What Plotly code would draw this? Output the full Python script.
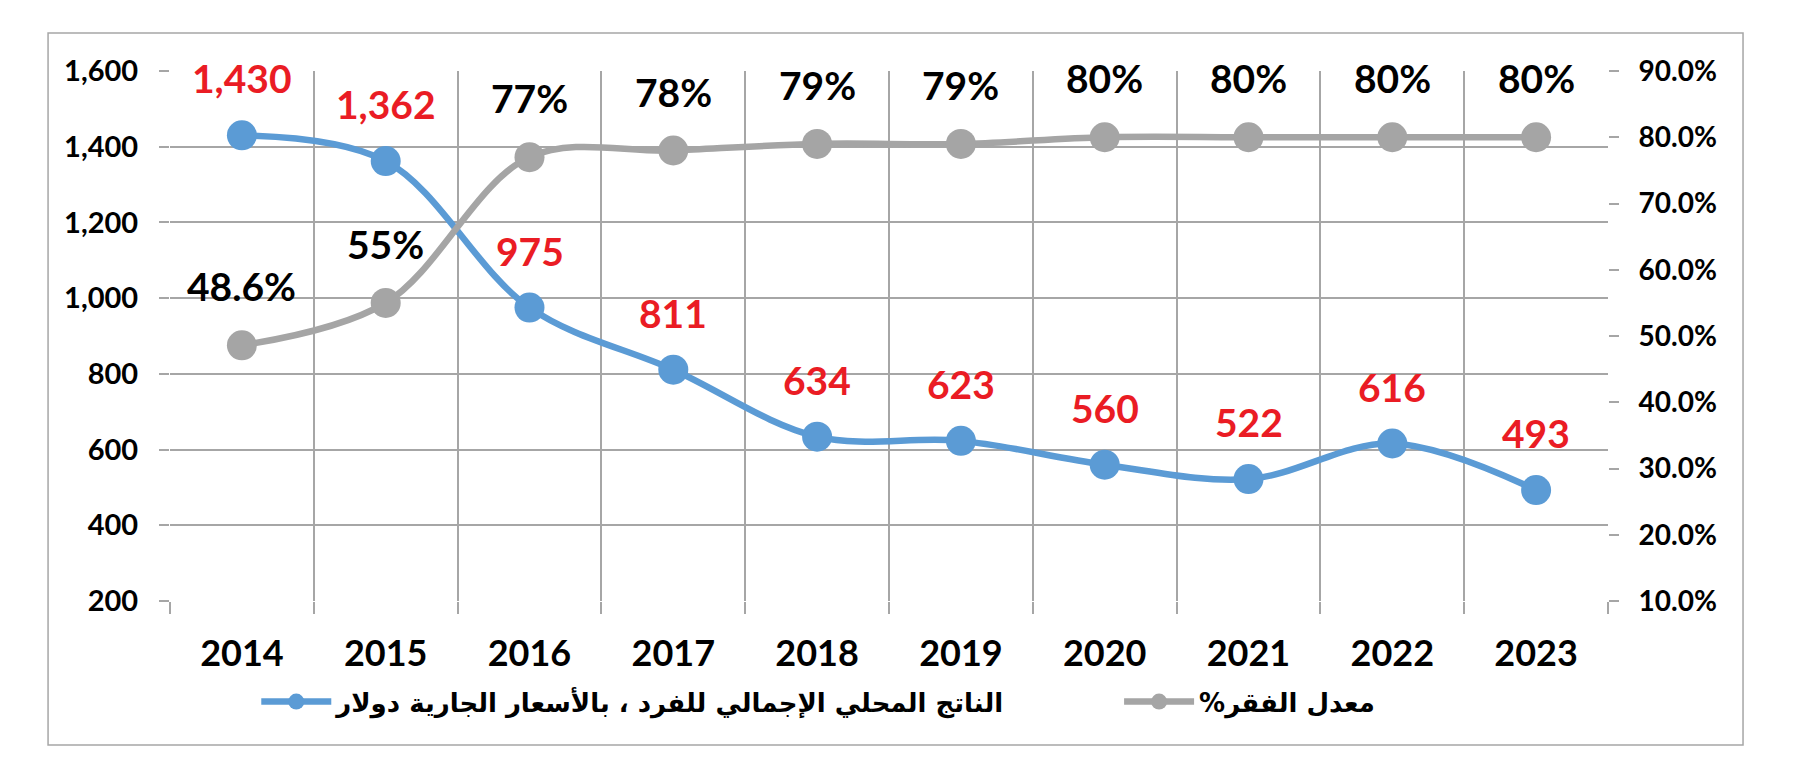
import plotly.graph_objects as go

years = ["2014", "2015", "2016", "2017", "2018", "2019", "2020", "2021", "2022", "2023"]
gdp_per_capita = [1430, 1362, 975, 811, 634, 623, 560, 522, 616, 493]
poverty_rate = [48.6, 55, 77, 78, 79, 79, 80, 80, 80, 80]
gdp_name = "الناتج المحلي الإجمالي للفرد ، بالأسعار الجارية دولار"
poverty_name = "معدل الفقر%"
left_ticks = [200, 400, 600, 800, 1000, 1200, 1400, 1600]
right_ticks = [10, 20, 30, 40, 50, 60, 70, 80, 90]
right_tick_text = [f"{v:.1f}%" for v in right_ticks]

BLUE = "#5b9bd5"
GRAY = "#a5a5a5"
GRID = "#a6a6a6"
RED = "#ea1c24"
NUM_FONT = "Lato"
AR_FONT = "DejaVu Sans"
RLM = "\u200F"  # right-to-left mark so the Arabic legend reads as an RTL paragraph

fig = go.Figure()
fig.add_trace(go.Scatter(
    x=years, y=gdp_per_capita, name=RLM + gdp_name + RLM, mode="lines+markers",
    line=dict(color=BLUE, width=6.5, shape="spline", smoothing=1),
    marker=dict(color=BLUE, size=30), yaxis="y", legend="legend",
))
fig.add_trace(go.Scatter(
    x=years, y=poverty_rate, name=RLM + poverty_name + RLM, mode="lines+markers",
    line=dict(color=GRAY, width=6.5, shape="spline", smoothing=1),
    marker=dict(color=GRAY, size=30), yaxis="y2", legend="legend2",
))

for i, v in enumerate(gdp_per_capita):
    fig.add_annotation(x=i, y=v, xref="x", yref="y", text=f"{v:,}", showarrow=False,
                       yshift=57, font=dict(family=NUM_FONT, size=39, color=RED, weight="bold"))
for i, v in enumerate(poverty_rate):
    fig.add_annotation(x=i, y=v, xref="x", yref="y2", text=f"{v:g}%", showarrow=False,
                       yshift=59, font=dict(family=NUM_FONT, size=39, color="black", weight="bold"))

# outer chart border
fig.add_shape(type="rect", xref="paper", yref="paper",
              x0=-0.0848, x1=1.0939, y0=-0.2717, y1=1.0717,
              line=dict(color=GRID, width=1.5), layer="below")

legend_font = dict(family=AR_FONT, size=26, color="black", weight="bold")
fig.update_layout(
    width=1787, height=765,
    margin=dict(l=162, r=187, t=63, b=172, autoexpand=False),
    paper_bgcolor="white", plot_bgcolor="white",
    showlegend=True,
    legend=dict(orientation="h", x=0.06, y=-0.19, xanchor="left", yanchor="middle",
                font=legend_font, itemwidth=70, bgcolor="rgba(0,0,0,0)"),
    legend2=dict(orientation="h", x=0.66, y=-0.19, xanchor="left", yanchor="middle",
                 font=legend_font, itemwidth=70, bgcolor="rgba(0,0,0,0)"),
    xaxis=dict(type="category", range=[-0.5, 9.5], tickson="boundaries",
               showgrid=True, gridcolor=GRID, gridwidth=2,
               ticks="outside", ticklen=12, tickwidth=2, tickcolor=GRID,
               showline=False, zeroline=False, ticklabelstandoff=28,
               tickfont=dict(family=NUM_FONT, size=36, color="black", weight="bold")),
    yaxis=dict(range=[200, 1600], tickvals=left_ticks, tickformat=",d",
               showgrid=True, gridcolor=GRID, gridwidth=2, zeroline=False,
               ticks="outside", ticklen=10, tickwidth=2, tickcolor=GRID,
               ticklabelstandoff=15,
               tickfont=dict(family=NUM_FONT, size=29, color="black", weight="bold")),
    yaxis2=dict(range=[10, 90], tickvals=right_ticks, ticktext=right_tick_text,
                overlaying="y", side="right", showgrid=False, zeroline=False,
                ticks="outside", ticklen=10, tickwidth=2, tickcolor=GRID,
                ticklabelstandoff=14,
                tickfont=dict(family=NUM_FONT, size=28, color="black", weight="bold")),
)

fig.write_html("out.html")
